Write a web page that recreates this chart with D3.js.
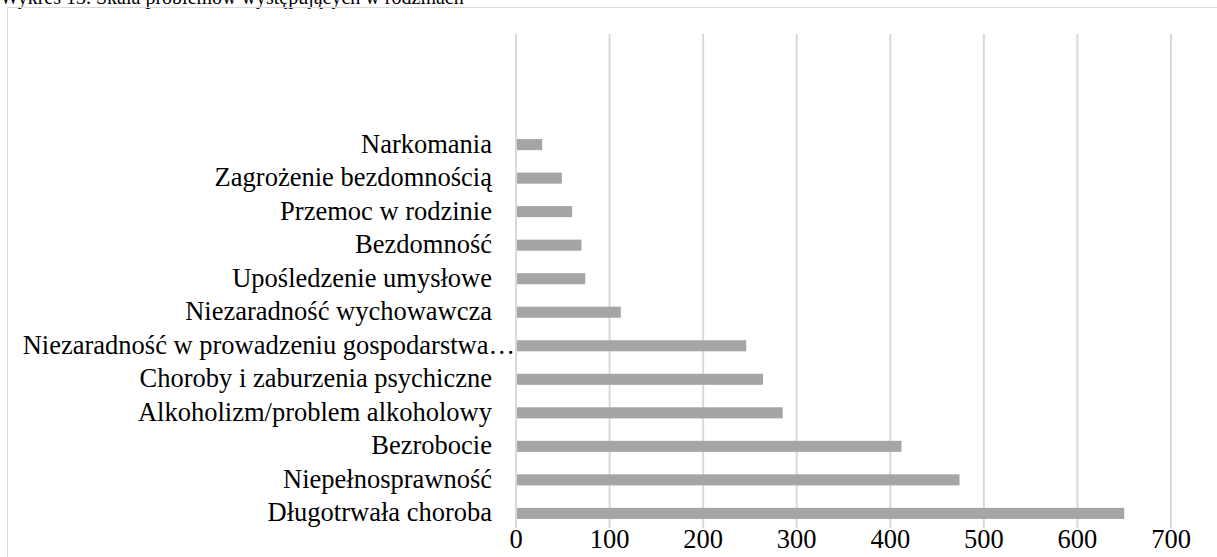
<!DOCTYPE html>
<html>
<head>
<meta charset="utf-8">
<style>
body { margin: 0; background: #fff; }
svg { display: block; font-family: 'Liberation Serif', 'Times New Roman', serif; }
</style>
</head>
<body>
<svg width="1217" height="557"></svg>
<script src="https://d3js.org/d3.v7.min.js"></script>
<script>

// data, top to bottom as drawn
var categories = [
  "Narkomania",
  "Zagrożenie bezdomnością ",
  "Przemoc w rodzinie",
  "Bezdomność",
  "Upośledzenie umysłowe",
  "Niezaradność wychowawcza",
  "Niezaradność w prowadzeniu gospodarstwa…",
  "Choroby i zaburzenia psychiczne",
  "Alkoholizm/problem alkoholowy",
  "Bezrobocie",
  "Niepełnosprawność",
  "Długotrwała choroba"
];
var values = [28, 49, 60, 70, 74, 112, 246, 264, 285, 412, 474, 650];
var xTicks = [0, 100, 200, 300, 400, 500, 600, 700];
var title = "Wykres 13. Skala problemów występujących w rodzinach";

var fontSize = 26.5;

var svg = d3.select("svg");

// title, mostly cut off at the top edge (as in the source page)
svg.append("text")
    .attr("x", 0)
    .attr("y", 4)
    .attr("font-size", 20)
    .attr("fill", "#000")
    .text(title);

// chart frame (runs off right and bottom)
svg.append("rect")
    .attr("x", 7.5)
    .attr("y", 7.5)
    .attr("width", 1230)
    .attr("height", 600)
    .attr("fill", "none")
    .attr("stroke", "#d9d9d9")
    .attr("stroke-width", 1);

var x = d3.scaleLinear()
    .domain([0, 700])
    .range([516, 1171]);

var y = d3.scaleBand()
    .domain(categories)
    .range([128, 530])
    .paddingInner(0.67)
    .paddingOuter(0.33);

// gridlines
svg.append("g")
  .selectAll("line")
    .data(xTicks)
  .enter().append("line")
    .attr("x1", function(d) { return x(d); })
    .attr("x2", function(d) { return x(d); })
    .attr("y1", 34)
    .attr("y2", 528)
    .attr("stroke", "#d9d9d9")
    .attr("stroke-width", 2);

// bars
svg.append("g")
  .selectAll("rect")
    .data(values)
  .enter().append("rect")
    .attr("x", x(0) + 1)
    .attr("y", function(d, i) { return y(categories[i]); })
    .attr("width", function(d) { return x(d) - x(0) - 1; })
    .attr("height", y.bandwidth())
    .attr("fill", "#a5a5a5");

// category labels
svg.append("g")
  .selectAll("text")
    .data(categories)
  .enter().append("text")
    .attr("x", function(d) { return d.slice(-1) === "…" ? 515 : 492; })
    .attr("y", function(d) { return y(d) + y.bandwidth() / 2; })
    .attr("dy", "0.3em")
    .attr("text-anchor", "end")
    .attr("font-size", fontSize)
    .attr("fill", "#000")
    .text(function(d) { return d; });

// x axis labels
svg.append("g")
  .selectAll("text")
    .data(xTicks)
  .enter().append("text")
    .attr("x", function(d) { return x(d); })
    .attr("y", 539)
    .attr("dy", "0.35em")
    .attr("text-anchor", "middle")
    .attr("font-size", fontSize)
    .attr("fill", "#000")
    .text(function(d) { return d; });

</script>
</body>
</html>
